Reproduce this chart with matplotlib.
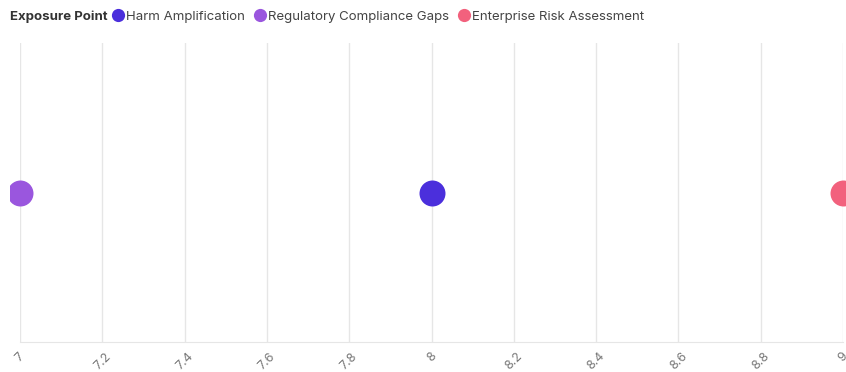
import matplotlib
matplotlib.use('Agg')
import matplotlib.pyplot as plt
from matplotlib.lines import Line2D
from matplotlib.patches import Rectangle

# exposure points on a single row
series = ['Harm Amplification', 'Regulatory Compliance Gaps', 'Enterprise Risk Assessment']
scores = [8.0, 7.0, 9.0]
colors = ['#4b2fdc', '#9a56de', '#f2617d']
ticks = [7, 7.2, 7.4, 7.6, 7.8, 8, 8.2, 8.4, 8.6, 8.8, 9]
tick_labels = ['7', '7.2', '7.4', '7.6', '7.8', '8', '8.2', '8.4', '8.6', '8.8', '9']

plt.rcParams['font.family'] = ['Inter', 'DejaVu Sans']

fig = plt.figure(figsize=(8.46, 3.72), dpi=100)
ax = fig.add_axes([20 / 846, 30 / 372, 823 / 846, 299 / 372])

# markers may spill a little past the plot edges
clip = Rectangle((10 / 846, 0), 836 / 846, 1, transform=fig.transFigure,
                 facecolor='none', edgecolor='none')
for name, x, c in zip(series, scores, colors):
    pts = ax.scatter([x], [0], s=350, color=c, zorder=3, linewidths=0)
    pts.set_clip_path(clip)

ax.set_xlim(7, 9)
ax.set_ylim(-1, 1)
ax.set_xticks(ticks)
ax.set_xticklabels(tick_labels, rotation=45, ha='center', fontsize=9, color='#777777')
ax.tick_params(axis='x', length=0, pad=6)
ax.set_yticks([])
ax.grid(axis='x', color='#e6e6e6', linewidth=1)
ax.set_axisbelow(True)
for side in ['top', 'left', 'right']:
    ax.spines[side].set_visible(False)
ax.spines['bottom'].set_color('#e6e6e6')

# legend row across the top
fig.text(10 / 846, 1 - 17 / 372, 'Exposure Point', fontsize=9.5, fontweight='bold',
         color='#333333', va='center', ha='left')
handles = [Line2D([0], [0], marker='o', linestyle='', markersize=9.5,
                  markerfacecolor=c, markeredgewidth=0) for c in colors]
fig.legend(handles, series, loc='center left', bbox_to_anchor=(111 / 846, 1 - 17 / 372),
           ncol=3, frameon=False, fontsize=9.5, handletextpad=0.15, columnspacing=0.6,
           handlelength=1.0, borderaxespad=0, borderpad=0, labelcolor='#444444')

fig.savefig('out.png', dpi=100)
